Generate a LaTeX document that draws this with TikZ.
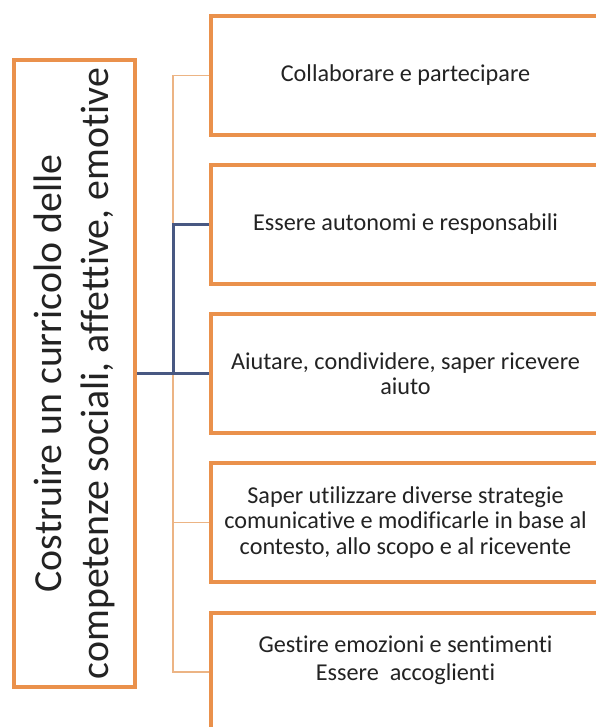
\documentclass[tikz,border=0pt]{standalone}
\usepackage{fontspec}
\setmainfont{Carlito}[Ligatures=NoCommon]
\definecolor{boxorange}{RGB}{234,145,76}
\definecolor{thinline}{RGB}{236,180,132}
\definecolor{hiblue}{RGB}{72,88,130}
\definecolor{txtgray}{RGB}{35,35,35}
\begin{document}
\begin{tikzpicture}[x=1pt,y=1pt,
  mainbox/.style={draw=boxorange, line width=4pt, fill=white, rotate=90,
    minimum width=626pt, minimum height=121pt, inner sep=0pt, align=center,
    text=txtgray, font=\fontsize{39.8}{47}\selectfont},
  itembox/.style={draw=boxorange, line width=4pt, fill=white,
    minimum width=389pt, minimum height=119pt, inner sep=0pt, align=center,
    text=txtgray, font=\fontsize{24.2}{25.5}\selectfont},
  itemlbl/.style={inner sep=0pt, align=center, text=txtgray,
    font=\fontsize{24.2}{28}\selectfont},
  thinconn/.style={draw=thinline, line width=1.3pt},
  blueconn/.style={draw=hiblue, line width=3pt}]
\useasboundingbox (0,0) rectangle (596,-727);
\fill[white] (0,0) rectangle (596,-727);
\clip (0,0) rectangle (596,-727);
\coordinate (trunk) at (173,0);
\node[mainbox] (main) at (74.5,-373.5) {Costruire un curricolo delle\\competenze sociali, affettive, emotive};
\node[itembox] (b1) at (405.5,-75.5) {Collaborare e partecipare};
\node[itembox] (b2) at (405.5,-224.5) {Essere autonomi e responsabili};
\node[itembox] (b3) at (405.5,-373.5) {Aiutare, condividere, saper ricevere\\aiuto};
\node[itembox] (b4) at (405.5,-522.5) {Saper utilizzare diverse strategie\\comunicative e modificarle in base al\\contesto, allo scopo e al ricevente};
\node[itembox] (b5) at (405.5,-672) {};
\node[itemlbl] (b5lbl) at (405.5,-660) {Gestire emozioni e sentimenti\\Essere\ \ accoglienti};
\draw[thinconn] (b1.west) -- (b1.west -| trunk) -- (b5.west -| trunk) -- (b5.west);
\draw[thinconn] (b4.west -| trunk) -- (b4.west);
\draw[blueconn] (main.south) -- (main.south -| trunk) -- (b2.west -| trunk) -- (b2.west);
\draw[blueconn] (main.south -| trunk) -- (b3.west);
\end{tikzpicture}
\end{document}
